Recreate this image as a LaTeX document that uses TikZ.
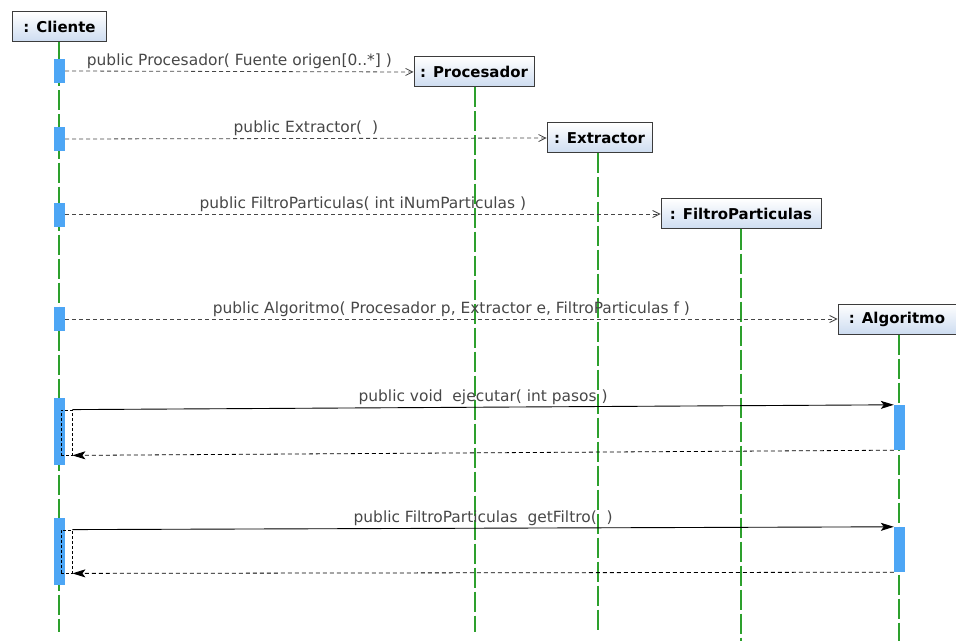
\documentclass[tikz,border=0pt]{standalone}
\usepackage{fontspec}
\setmainfont{DejaVu Sans}
\usetikzlibrary{arrows.meta,shadings}
\definecolor{headborder}{RGB}{60,60,60}
\definecolor{headbottom}{RGB}{205,220,240}
\definecolor{lifegreen}{RGB}{45,160,45}
\definecolor{actblue}{RGB}{77,166,245}
\definecolor{msggray}{RGB}{70,70,70}
\tikzset{
  head/.style={draw=headborder, line width=1bp, top color=white, bottom color=headbottom,
    font=\bfseries\fontsize{15}{17}\selectfont, minimum height=30bp, inner sep=0pt},
  lifeline/.style={draw=lifegreen, line width=1.2bp, dash pattern=on 20bp off 4bp},
  act/.style={fill=actblue, draw=none, minimum width=11bp, inner sep=0pt},
  selfbox/.style={draw=black, dash pattern=on 3bp off 2bp, line width=0.8bp, minimum width=11bp, inner sep=0pt},
  create/.style={draw=msggray, line width=0.8bp, dash pattern=on 4bp off 3bp,
    -{Straight Barb[length=7bp,width=7bp,line width=0.8bp]}},
  call/.style={draw=black, line width=0.9bp, -{Stealth[length=13bp,width=8bp,inset=3bp]}},
  reply/.style={draw=black, line width=0.8bp, dash pattern=on 4bp off 3bp,
    -{Stealth[length=13bp,width=8bp,inset=3bp]}},
  lbl/.style={font=\fontsize{15.5}{17}\selectfont, text=black!72, inner sep=1bp, above=1bp}
}
\begin{document}
\begin{tikzpicture}[x=1bp,y=-1bp]
\useasboundingbox (0,0) rectangle (956,641);

% object heads
\node[head, minimum width=94bp]  (cli)  at (59.5,27)  {: Cliente};
\node[head, minimum width=120bp] (proc) at (474,72)   {: Procesador};
\node[head, minimum width=105bp] (ext)  at (599.5,138) {: Extractor};
\node[head, minimum width=160bp] (fil)  at (741,214)  {: FiltroParticulas};
\node[head, minimum width=118bp] (alg)  at (897,319)  {: Algoritmo};

% lifeline ends
\coordinate (cliEnd)  at (59,632);
\coordinate (procEnd) at (475,632);
\coordinate (extEnd)  at (598,632);
\coordinate (filEnd)  at (741,641);
\coordinate (algEnd)  at (899,641);

% lifelines
\draw[lifeline] (cli.south -| cliEnd)   -- (cliEnd);
\draw[lifeline] (proc.south -| procEnd) -- (procEnd);
\draw[lifeline] (ext.south -| extEnd)   -- (extEnd);
\draw[lifeline] (fil.south -| filEnd)   -- (filEnd);
\draw[lifeline] (alg.south -| algEnd)   -- (algEnd);

% activations on the client
\node[act, minimum height=24bp] (a1) at (59.5,71)    {};
\node[act, minimum height=24bp] (a2) at (59.5,139)   {};
\node[act, minimum height=24bp] (a3) at (59.5,215)   {};
\node[act, minimum height=24bp] (a4) at (59.5,319)   {};
\node[act, minimum height=67bp] (a5) at (59.5,431.5) {};
\node[act, minimum height=67bp] (a6) at (59.5,551.5) {};

% activations on Algoritmo
\node[act, minimum height=45bp] (b5) at (899.5,427.5) {};
\node[act, minimum height=45bp] (b6) at (899.5,549.5) {};

% nested call frames on the client
\node[selfbox, minimum height=45bp] (s5) at (66.5,432.5) {};
\node[selfbox, minimum height=43bp] (s6) at (66.5,551.5) {};

% constructor messages
\draw[create] (a1.east) -- (proc.west)
  node[lbl, midway] (m1) {public Procesador( Fuente origen[0..*] )};
\draw[create] (a2.east) -- (ext.west)
  node[lbl, midway] (m2) {public Extractor(~~)};
\draw[create] (a3.east |- fil.west) -- (fil.west)
  node[lbl, midway] (m3) {public FiltroParticulas( int iNumParticulas )};
\draw[create] (a4.east) -- (alg.west)
  node[lbl, midway] (m4) {public Algoritmo( Procesador p, Extractor e, FiltroParticulas f )};

% operation calls and replies
\draw[call] (s5.north east) -- (b5.north west)
  node[lbl, midway] (m5) {public void~~ejecutar( int pasos )};
\draw[reply] (b5.south west) -- (s5.south east);
\draw[call] (s6.north east) -- (b6.north west)
  node[lbl, midway] (m6) {public FiltroParticulas~~getFiltro(~~)};
\draw[reply] (b6.south west) -- (s6.south east);
\end{tikzpicture}
\end{document}
